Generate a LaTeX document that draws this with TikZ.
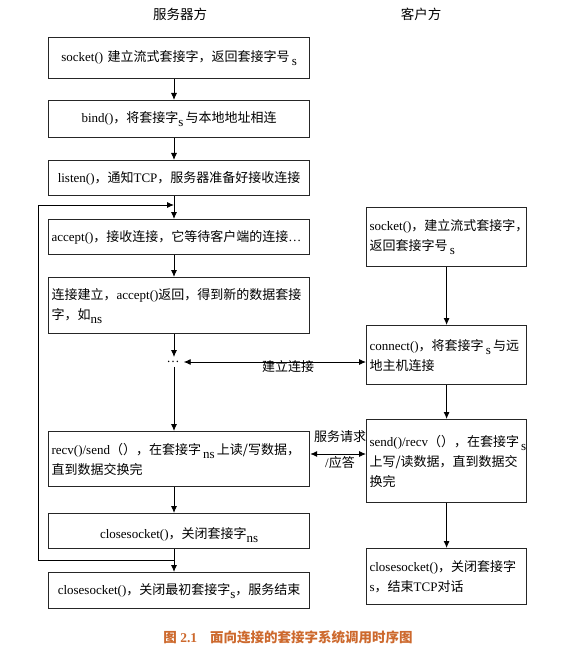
\documentclass[tikz,border=0pt]{standalone}
\usepackage{fontspec}
\setmainfont{Liberation Serif}
\newfontfamily\cjk{Noto Sans CJK SC}
\usetikzlibrary{arrows.meta}
\newcommand\zh[1]{{\cjk #1}}
\newcommand\sub[1]{\raisebox{-4pt}{#1}}
\definecolor{capcol}{RGB}{205,105,45}
\begin{document}
\begin{tikzpicture}[x=1pt,y=-1pt,
  font=\fontsize{13}{20}\selectfont,
  box/.style={draw=black!85, line width=1.2pt, inner xsep=3pt, inner ysep=0pt, anchor=north west},
  lbox/.style={box, text width=255pt, minimum width=261pt},
  rbox/.style={box, text width=154pt, minimum width=160pt},
  conn/.style={line width=0.9pt, -{Latex[length=7pt,width=6pt]}},
  dconn/.style={line width=0.9pt, {Latex[length=7pt,width=6pt]}-{Latex[length=7pt,width=6pt]}},
  lbl/.style={inner sep=0pt}]
\useasboundingbox (0,0) rectangle (585,647);
\fill[white] (0,0) rectangle (585,647);

% titles
\node[lbl, font=\fontsize{13.5}{16}\selectfont] (t1) at (180,14) {\zh{服务器方}};
\node[lbl, font=\fontsize{13.5}{16}\selectfont] (t2) at (421,14) {\zh{客户方}};

% server column
\node[lbox, align=center, minimum height=41pt] (b1) at (48,37)
  {socket()\ \zh{建立流式套接字，返回套接字号}\,\sub{s}};
\node[lbox, align=center, minimum height=37pt] (b2) at (48,100)
  {bind()\zh{，将套接字}\sub{s}\,\zh{与本地地址相连}};
\node[lbox, align=center, minimum height=35pt] (b3) at (48,160)
  {listen()\zh{，通知}TCP\zh{，服务器准备好接收连接}};
\node[lbox, align=left, minimum height=35pt] (b4) at (48,219)
  {accept()\zh{，接收连接，它等待客户端的连接}…};
\node[lbox, align=left, minimum height=56pt] (b5) at (48,277)
  {\zh{连接建立，}accept()\zh{返回，得到新的数据套接}\\\zh{字，如}\sub{ns}};
\node[inner sep=4pt] (dots) at (173,362) {…};
\node[lbox, align=left, minimum height=55pt] (b6) at (48,431)
  {recv()/send\zh{（），在套接字}\,\sub{ns}\,\zh{上读/写数据，}\\\zh{直到数据交换完}};
\node[lbox, align=center, minimum height=35pt] (b7) at (48,513)
  {\rule{0pt}{19pt}closesocket()\zh{，关闭套接字}\sub{ns}};
\node[lbox, align=center, minimum height=36pt] (b8) at (48,572)
  {closesocket()\zh{，关闭最初套接字}\sub{s}\zh{，服务结束}};

% client column
\node[rbox, align=left, minimum height=59pt] (r1) at (366,207)
  {socket()\zh{，建立流式套接字，}\\\zh{返回套接字号}\,\sub{s}};
\node[rbox, align=left, minimum height=59pt] (r2) at (366,325)
  {connect()\zh{，将套接字}\,\sub{s}\,\zh{与远}\\\zh{地主机连接}};
\node[rbox, align=left, minimum height=83pt] (r3) at (366,419)
  {send()/recv\zh{（），在套接字}\,\sub{s}\\\zh{上写/读数据，直到数据交}\\\zh{换完}};
\node[rbox, align=left, minimum height=56pt] (r4) at (366,548)
  {closesocket()\zh{，关闭套接字}\\s\zh{，结束}TCP\zh{对话}};

% spine coordinates
\coordinate (sp) at (174,0);
\coordinate (lt) at (38,205);
\coordinate (lb) at (38,560);
\coordinate (rq) at (0,454);

% server arrows
\draw[conn] (b1.south -| sp) -- (b2.north -| sp);
\draw[conn] (b2.south -| sp) -- (b3.north -| sp);
\draw[conn] (b3.south -| sp) -- (b4.north -| sp);
\draw[conn] (b4.south -| sp) -- (b5.north -| sp);
\draw[conn] (b5.south -| sp) -- (dots.north -| sp);
\draw[conn] (dots.south -| sp) -- (b6.north -| sp);
\draw[conn] (b6.south -| sp) -- (b7.north -| sp);
\draw[conn] (b7.south -| sp) -- (b8.north -| sp);
\draw[conn] (lb -| sp) -- (lb) -- (lt) -- (lt -| sp);

% client arrows
\draw[conn] (r1.south) -- (r2.north);
\draw[conn] (r2.south) -- (r3.north);
\draw[conn] (r3.south) -- (r4.north);

% cross arrows
\draw[dconn] (dots.east) -- (dots.east -| r2.west);
\draw[dconn] (b6.east |- rq) -- (r3.west |- rq);
\node[lbl] (l1) at (288,367) {\zh{建立连接}};
\node[lbl] (l2) at (340,437) {\zh{服务请求}};
\node[lbl] (l3) at (340,463) {/\zh{应答}};

% caption
\node[lbl, text=capcol, font=\bfseries\fontsize{13.5}{16}\selectfont] (cap) at (288,637)
  {\zh{图} 2.1\hspace{13pt}\zh{面向连接的套接字系统调用时序图}};
\end{tikzpicture}
\end{document}
